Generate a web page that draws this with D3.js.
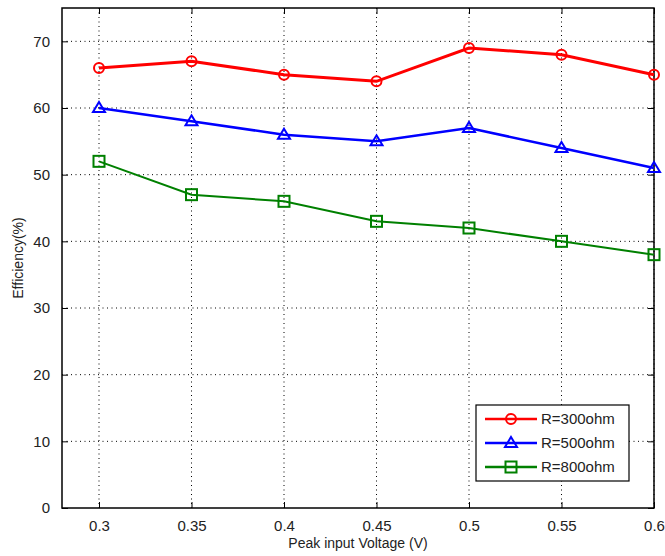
<!DOCTYPE html>
<html>
<head>
<meta charset="utf-8">
<script src="https://cdn.jsdelivr.net/npm/d3@7"></script>
<style>
  body { margin: 0; background: #fff; }
  text { font-family: "Liberation Sans", Arial, sans-serif; }
</style>
</head>
<body>
<svg id="chart" width="665" height="556"></svg>
<script>
const voltages = [0.3, 0.35, 0.4, 0.45, 0.5, 0.55, 0.6];
const eff300 = [66, 67, 65, 64, 69, 68, 65];
const eff500 = [60, 58, 56, 55, 57, 54, 51];
const eff800 = [52, 47, 46, 43, 42, 40, 38];
const seriesNames = ["R=300ohm", "R=500ohm", "R=800ohm"];
const xTicks = [0.3, 0.35, 0.4, 0.45, 0.5, 0.55, 0.6];
const yTicks = [0, 10, 20, 30, 40, 50, 60, 70];

const svg = d3.select("#chart"),
    margin = {left: 62, top: 8, right: 11, bottom: 48},
    W = 665, H = 556,
    iw = W - margin.left - margin.right,
    ih = H - margin.top - margin.bottom;

const x = d3.scaleLinear().domain([0.28, 0.6]).range([0, iw]);
const y = d3.scaleLinear().domain([0, 75]).range([ih, 0]);

const g = svg.append("g").attr("transform", `translate(${margin.left},${margin.top})`);

// dotted grid
g.append("g").selectAll("line").data(xTicks).join("line")
    .attr("x1", d => x(d)).attr("x2", d => x(d))
    .attr("y1", 0).attr("y2", ih)
    .attr("stroke", "#000").attr("stroke-width", 1).attr("stroke-dasharray", "1,3.5");
g.append("g").selectAll("line").data(yTicks.filter(d => d > 0)).join("line")
    .attr("x1", 0).attr("x2", iw)
    .attr("y1", d => y(d)).attr("y2", d => y(d))
    .attr("stroke", "#000").attr("stroke-width", 1).attr("stroke-dasharray", "1,3.5");

// axes with inward ticks
function styleAxis(sel) {
    sel.select(".domain").remove();
    sel.selectAll("line").attr("stroke", "#000");
    sel.selectAll("text").attr("font-size", 15).attr("fill", "#222");
}
g.append("g").attr("transform", `translate(0,${ih})`)
    .call(d3.axisBottom(x).tickValues(xTicks).tickSize(-6).tickPadding(12).tickFormat(d3.format("")))
    .call(styleAxis);
g.append("g")
    .call(d3.axisTop(x).tickValues(xTicks).tickSize(-6).tickFormat(""))
    .call(styleAxis);
g.append("g")
    .call(d3.axisLeft(y).tickValues(yTicks).tickSize(-6).tickPadding(12))
    .call(styleAxis);
g.append("g").attr("transform", `translate(${iw},0)`)
    .call(d3.axisRight(y).tickValues(yTicks).tickSize(-6).tickFormat(""))
    .call(styleAxis);

g.append("rect").attr("width", iw).attr("height", ih)
    .attr("fill", "none").attr("stroke", "#000").attr("stroke-width", 1.5);

// series
const series = [
    {name: seriesNames[0], values: eff300, color: "#ff0000", width: 3, marker: "circle"},
    {name: seriesNames[1], values: eff500, color: "#0000ff", width: 2.5, marker: "triangle"},
    {name: seriesNames[2], values: eff800, color: "#008000", width: 2, marker: "square"}
];

const line = d3.line().x((d, i) => x(voltages[i])).y(d => y(d));

function drawMarker(sel, type, color) {
    if (type === "circle") {
        sel.append("circle").attr("r", 5);
    } else if (type === "triangle") {
        sel.append("path").attr("d", "M0,-6L6,4L-6,4Z");
    } else {
        sel.append("rect").attr("x", -5.5).attr("y", -5.5).attr("width", 11).attr("height", 11);
    }
    sel.selectAll("circle,path,rect")
        .attr("fill", "none").attr("stroke", color).attr("stroke-width", 2);
}

series.forEach(s => {
    g.append("path").datum(s.values)
        .attr("d", line)
        .attr("fill", "none")
        .attr("stroke", s.color)
        .attr("stroke-width", s.width);
    g.append("g").selectAll("g").data(s.values).join("g")
        .attr("transform", (d, i) => `translate(${x(voltages[i])},${y(d)})`)
        .each(function() { drawMarker(d3.select(this), s.marker, s.color); });
});

// legend
const lg = svg.append("g").attr("transform", "translate(476,405)");
lg.append("rect").attr("width", 153).attr("height", 76)
    .attr("fill", "#fff").attr("stroke", "#000").attr("stroke-width", 1.2);
series.forEach((s, i) => {
    const row = lg.append("g").attr("transform", `translate(0,${14 + i * 24})`);
    row.append("line").attr("x1", 9).attr("x2", 61)
        .attr("stroke", s.color).attr("stroke-width", 2.5);
    const m = row.append("g").attr("transform", "translate(35,0)");
    drawMarker(m, s.marker, s.color);
    row.append("text").attr("x", 65).attr("y", 5)
        .attr("font-size", 15).attr("fill", "#222").text(s.name);
});

// axis titles
svg.append("text")
    .attr("x", margin.left + iw / 2).attr("y", 548)
    .attr("text-anchor", "middle").attr("font-size", 14).attr("fill", "#222")
    .text("Peak input Voltage (V)");
svg.append("text")
    .attr("transform", `translate(23,${margin.top + ih / 2}) rotate(-90)`)
    .attr("text-anchor", "middle").attr("font-size", 14).attr("fill", "#222")
    .text("Efficiency(%)");
</script>
</body>
</html>
